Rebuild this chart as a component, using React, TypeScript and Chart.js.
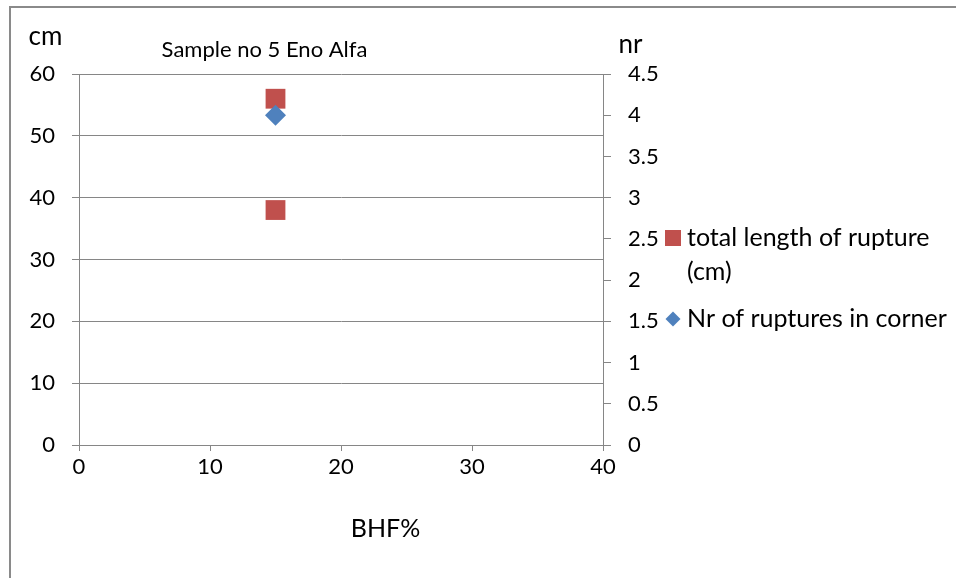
import React, { useEffect, useRef } from "react";
import { Chart, registerables } from "chart.js";

Chart.register(...registerables);

// BHF% test points and the measured rupture values
const lengthBhf = [15, 15];
const lengthCm = [56, 38];
const countBhf = [15];
const countCorner = [4];

const seriesNames = ["total length of rupture (cm)", "Nr of ruptures in corner"];
const chartTitle = "Sample no 5 Eno Alfa";
const xTitle = "BHF%";
const leftTitle = "cm";
const rightTitle = "nr";

const FONT = "Lato, 'Noto Sans', sans-serif";
const RED = "#C0504D";
const BLUE = "#4F81BD";
const GRID = "#868686";

function wrapText(ctx: CanvasRenderingContext2D, text: string, maxWidth: number): string[] {
  const words = text.split(" ");
  const lines: string[] = [];
  let line = "";
  for (const w of words) {
    const test = line ? line + " " + w : w;
    if (ctx.measureText(test).width > maxWidth && line) {
      lines.push(line);
      line = w;
    } else {
      line = test;
    }
  }
  if (line) lines.push(line);
  return lines;
}

const decorations = {
  id: "decorations",
  afterDraw(chart: any) {
    const ctx: CanvasRenderingContext2D = chart.ctx;
    ctx.save();

    // outer frame
    ctx.strokeStyle = "#8a8a8a";
    ctx.lineWidth = 2;
    ctx.beginPath();
    ctx.moveTo(10, 578);
    ctx.lineTo(10, 7);
    ctx.lineTo(956, 7);
    ctx.stroke();

    ctx.fillStyle = "#000";
    ctx.textBaseline = "alphabetic";
    ctx.textAlign = "center";
    ctx.font = `22px ${FONT}`;
    ctx.fillText(chartTitle, 264.5, 57);

    ctx.font = `26px ${FONT}`;
    ctx.fillText(leftTitle, 45.5, 45);
    ctx.fillText(rightTitle, 630.5, 53);
    ctx.font = `25px ${FONT}`;
    ctx.fillText(xTitle, 385.5, 537);

    // legend
    ctx.font = `25px ${FONT}`;
    ctx.textAlign = "left";
    const markerX = 673;
    const textX = 687;
    const lineH = 34;
    let baseY = 246;
    chart.data.datasets.forEach((ds: any) => {
      const lines = wrapText(ctx, ds.label, 266);
      const cy = baseY - 8;
      ctx.fillStyle = ds.backgroundColor;
      if (ds.pointStyle === "rect") {
        ctx.fillRect(markerX - 8, cy - 8, 16, 16);
      } else {
        ctx.beginPath();
        ctx.moveTo(markerX - 7.5, cy);
        ctx.lineTo(markerX, cy - 7.5);
        ctx.lineTo(markerX + 7.5, cy);
        ctx.lineTo(markerX, cy + 7.5);
        ctx.closePath();
        ctx.fill();
      }
      ctx.fillStyle = "#000";
      lines.forEach((l, i) => ctx.fillText(l, textX, baseY + i * lineH));
      baseY += (lines.length - 1) * lineH + 47;
    });

    ctx.restore();
  },
};

const plainNumber = (v: any) => String(Number(v));

export default function App() {
  const ref = useRef<HTMLCanvasElement | null>(null);

  useEffect(() => {
    if (!ref.current) return;
    const tickFont = { family: FONT, size: 22 };
    const chart = new Chart(ref.current, {
      type: "scatter",
      data: {
        datasets: [
          {
            label: seriesNames[0],
            data: lengthBhf.map((x, i) => ({ x, y: lengthCm[i] })),
            yAxisID: "y",
            pointStyle: "rect",
            pointRadius: 14,
            backgroundColor: RED,
            borderColor: RED,
            borderWidth: 0,
            order: 2,
          },
          {
            label: seriesNames[1],
            data: countBhf.map((x, i) => ({ x, y: countCorner[i] })),
            yAxisID: "y1",
            pointStyle: "rectRot",
            pointRadius: 10.5,
            backgroundColor: BLUE,
            borderColor: BLUE,
            borderWidth: 0,
            order: 1,
          },
        ],
      },
      options: {
        responsive: false,
        animation: false,
        layout: { padding: { top: 74, left: 0, right: 0, bottom: 0 } },
        plugins: {
          legend: { display: false },
          title: { display: false },
          tooltip: { enabled: false },
        },
        scales: {
          x: {
            type: "linear",
            position: "bottom",
            min: 0,
            max: 40,
            ticks: { stepSize: 10, color: "#000", font: tickFont, padding: 3, callback: plainNumber },
            grid: { drawOnChartArea: false, drawTicks: true, tickLength: 6, color: GRID },
            border: { color: GRID, width: 1 },
            afterFit: (s: any) => {
              s.height = 133;
            },
          },
          y: {
            type: "linear",
            position: "left",
            min: 0,
            max: 60,
            ticks: { stepSize: 10, color: "#000", font: tickFont, padding: 17, callback: plainNumber },
            grid: { color: GRID, tickLength: 7 },
            border: { color: GRID, width: 1 },
            afterFit: (s: any) => {
              s.width = 79;
            },
          },
          y1: {
            type: "linear",
            position: "right",
            min: 0,
            max: 4.5,
            ticks: { stepSize: 0.5, color: "#000", font: tickFont, padding: 17, callback: plainNumber },
            grid: { drawOnChartArea: false, tickLength: 8, color: GRID },
            border: { color: GRID, width: 1 },
            afterFit: (s: any) => {
              s.width = 956 - 603;
            },
          },
        },
      },
      plugins: [decorations],
    });
    return () => chart.destroy();
  }, []);

  return (
    <div style={{ position: "fixed", left: 0, top: 0, width: 956, height: 578, background: "#fff" }}>
      <canvas ref={ref} width={956} height={578} style={{ display: "block" }} />
    </div>
  );
}
